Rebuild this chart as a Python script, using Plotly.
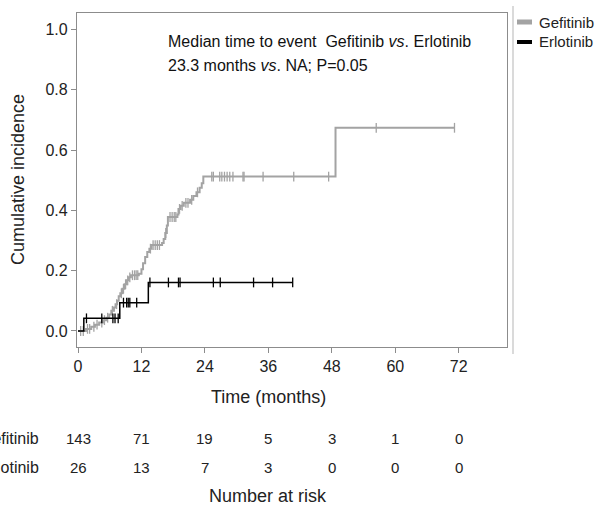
import numpy as np
import plotly.graph_objects as go

# ---------------- data ----------------
gef_times = [0, 1.5, 2.5, 3.2, 4.0, 4.8, 5.4, 5.9, 6.3, 6.8, 7.1, 7.4, 7.7, 8.0, 8.4, 8.8, 9.2, 9.6,
             10.0, 11.5, 12.0, 12.3, 12.7, 13.1, 13.5, 13.9, 15.9, 16.2, 16.5, 16.8, 17.0, 18.8, 19.0,
             19.4, 20.0, 21.2, 21.8, 22.4, 23.0, 23.4, 23.7, 48.7, 71.2]
gef_cuminc = [0, 0.007, 0.014, 0.021, 0.028, 0.036, 0.044, 0.055, 0.067, 0.078, 0.089, 0.100, 0.115,
              0.125, 0.140, 0.155, 0.168, 0.178, 0.185, 0.190, 0.205, 0.225, 0.245, 0.262, 0.273,
              0.285, 0.292, 0.305, 0.325, 0.350, 0.378, 0.386, 0.405, 0.415, 0.425, 0.435, 0.448,
              0.460, 0.475, 0.490, 0.512, 0.674, 0.674]
gef_censor = [0.5, 1.0, 1.8, 2.2, 3.0, 3.6, 4.5, 5.0, 5.6, 6.5, 7.3, 8.2, 8.6, 9.0, 9.4, 9.8, 10.3,
              10.7, 11.0, 11.3, 13.7, 14.2, 14.6, 15.0, 15.4, 16.6, 17.4, 17.8, 18.2, 18.5, 19.2,
              19.7, 20.4, 20.8, 21.5, 22.6, 25.3, 25.6, 26.8, 27.2, 27.7, 28.2, 28.7, 29.3, 31.2,
              31.4, 35.0, 40.8, 47.4, 56.4, 71.2]

erl_times = [0, 1.1, 7.9, 13.3, 40.6]
erl_cuminc = [0, 0.042, 0.094, 0.161, 0.161]
erl_censor = [1.6, 4.5, 6.6, 7.0, 7.6, 8.6, 9.2, 9.5, 9.8, 11.1, 13.6, 17.1, 19.0, 19.3,
              25.6, 26.9, 33.2, 36.8, 40.6]

risk_times = [0, 12, 24, 36, 48, 60, 72]
gef_risk = [143, 71, 19, 5, 3, 1, 0]
erl_risk = [26, 13, 7, 3, 0, 0, 0]

x_ticks = [0, 12, 24, 36, 48, 60, 72]
y_ticks = [0.0, 0.2, 0.4, 0.6, 0.8, 1.0]

GRAY = "#a3a3a3"
BLACK = "#000000"
FONT = "Liberation Sans, Arial, sans-serif"


def step_value(times, vals, t):
    idx = np.searchsorted(np.asarray(times), t, side="right") - 1
    return np.asarray(vals)[idx]


fig = go.Figure()

for times, vals, cens, col, w, name in [
    (gef_times, gef_cuminc, gef_censor, GRAY, 2, "Gefitinib"),
    (erl_times, erl_cuminc, erl_censor, BLACK, 1.5, "Erlotinib"),
]:
    fig.add_trace(go.Scatter(x=times, y=vals, mode="lines", line=dict(color=col, width=w, shape="hv"),
                             showlegend=False, name=name, hoverinfo="skip"))
    fig.add_trace(go.Scatter(x=cens, y=[step_value(times, vals, c) for c in cens], mode="markers",
                             marker=dict(symbol="line-ns", size=7, line=dict(color=col, width=1.3)),
                             showlegend=False, name=name, hoverinfo="skip"))

ann = []
shapes = []

# statistics text
ann.append(dict(xref="paper", yref="paper", x=(166 - 77) / 430, y=(347 - 41) / 334,
                xanchor="left", yanchor="middle", showarrow=False, align="left",
                text="Median time to event  Gefitinib <i>vs</i>. Erlotinib",
                font=dict(size=16, color="#111111", family=FONT)))
ann.append(dict(xref="paper", yref="paper", x=(166 - 77) / 430, y=(347 - 65) / 334,
                xanchor="left", yanchor="middle", showarrow=False, align="left",
                text="23.3 months <i>vs</i>. NA; P=0.05",
                font=dict(size=16, color="#111111", family=FONT)))

# axis titles
ann.append(dict(xref="paper", yref="paper", x=(18 - 77) / 430, y=0.5, textangle=-90,
                xanchor="center", yanchor="middle", showarrow=False,
                text="Cumulative incidence", font=dict(size=18, color="#222222", family=FONT)))
ann.append(dict(xref="x", yref="paper", x=36, y=(347 - 397) / 334,
                xanchor="center", yanchor="middle", showarrow=False,
                text="Time (months)", font=dict(size=18, color="#222222", family=FONT)))

# number at risk table
for lab, row, py in [("Gefitinib", gef_risk, 438), ("Erlotinib", erl_risk, 467)]:
    ann.append(dict(xref="paper", yref="paper", x=(41 - 77) / 430, y=(347 - py) / 334,
                    xanchor="right", yanchor="middle", showarrow=False, text=lab,
                    font=dict(size=16, color="#222222", family=FONT)))
    for t, n in zip(risk_times, row):
        ann.append(dict(xref="x", yref="paper", x=t, y=(347 - py) / 334,
                        xanchor="center", yanchor="middle", showarrow=False, text=str(n),
                        font=dict(size=15, color="#222222", family=FONT)))
ann.append(dict(xref="x", yref="paper", x=36, y=(347 - 496) / 334,
                xanchor="center", yanchor="middle", showarrow=False,
                text="Number at risk", font=dict(size=18, color="#222222", family=FONT)))

# legend (manual)
for lab, col, w, py in [("Gefitinib", GRAY, 5, 22), ("Erlotinib", BLACK, 4, 42)]:
    yp = (347 - py) / 334
    shapes.append(dict(type="line", xref="paper", yref="paper", x0=(517 - 77) / 430, x1=(532 - 77) / 430,
                       y0=yp, y1=yp, line=dict(color=col, width=w)))
    ann.append(dict(xref="paper", yref="paper", x=(537 - 77) / 430, y=yp, xanchor="left",
                    yanchor="middle", showarrow=False, text=lab,
                    font=dict(size=15, color="#222222", family=FONT)))

# outer vertical rule
shapes.append(dict(type="line", xref="paper", yref="paper", x0=(513 - 77) / 430, x1=(513 - 77) / 430,
                   y0=(347 - 354) / 334, y1=(347 - 6) / 334, line=dict(color="#b5b5b5", width=1)))

fig.update_layout(
    width=601, height=507,
    margin=dict(l=77, r=94, t=13, b=160),
    paper_bgcolor="white", plot_bgcolor="white",
    font=dict(family=FONT, size=16, color="#222222"),
    xaxis=dict(range=[-0.19, 81.13], tickvals=x_ticks, ticktext=[str(v) for v in x_ticks],
               showgrid=False, zeroline=False, showline=True, mirror=True, linecolor="#8c8c8c",
               linewidth=1.3, ticks="outside", ticklen=5, tickcolor="#8c8c8c",
               tickfont=dict(size=16, color="#222222")),
    yaxis=dict(range=[-0.0531, 1.0547], tickvals=y_ticks, ticktext=[f"{v:.1f}" for v in y_ticks],
               showgrid=False, zeroline=False, showline=True, mirror=True, linecolor="#8c8c8c",
               linewidth=1.3, ticks="outside", ticklen=5, tickcolor="#8c8c8c",
               tickfont=dict(size=16, color="#222222")),
    annotations=ann, shapes=shapes, showlegend=False,
)

fig.write_html("out.html")
